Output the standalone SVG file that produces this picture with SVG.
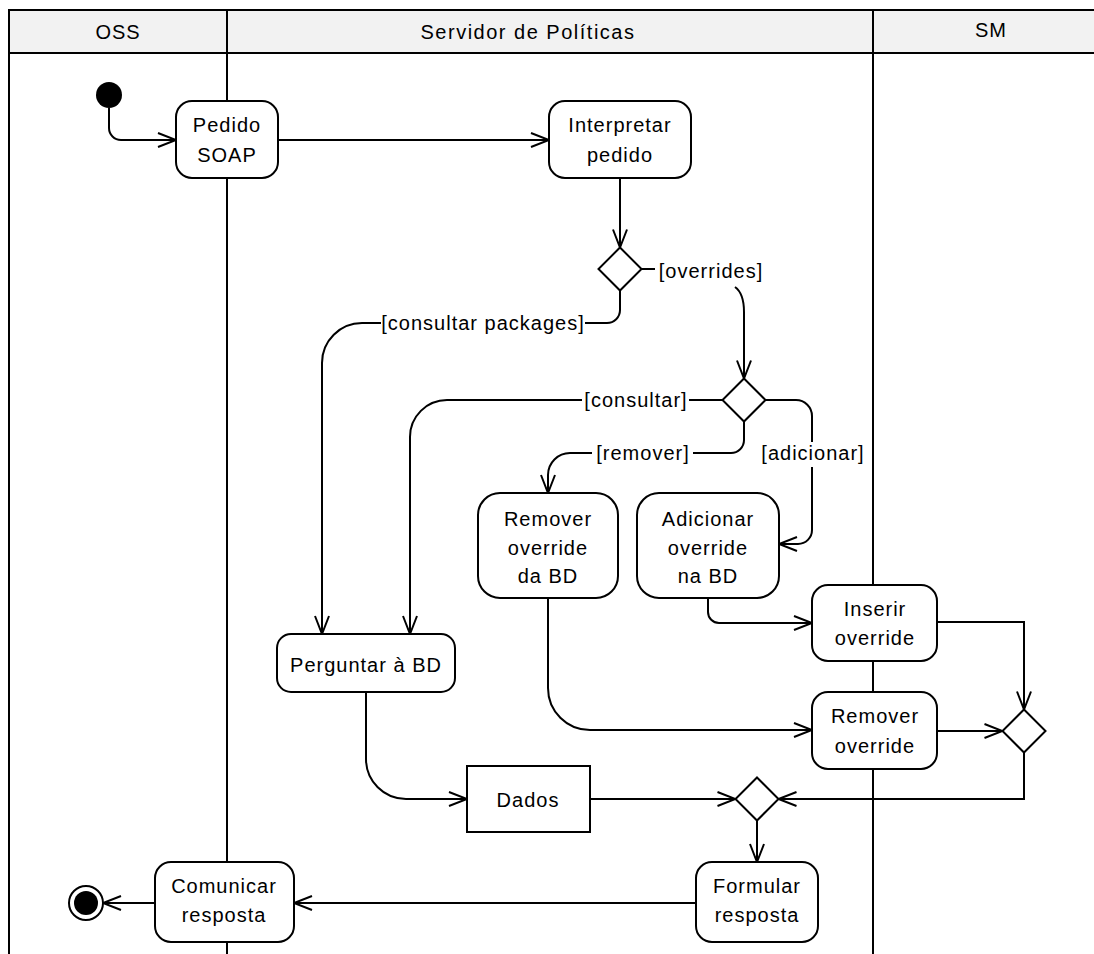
<svg xmlns="http://www.w3.org/2000/svg" width="1094" height="954" viewBox="0 0 1094 954">
  <style>
    .lane { fill: none; stroke: #000; stroke-width: 2; }
    .hdr { fill: #f2f2f2; stroke: none; }
    .act { fill: #fff; stroke: #000; stroke-width: 2; }
    .dec { fill: #fff; stroke: #000; stroke-width: 2; }
    .edge { fill: none; stroke: #000; stroke-width: 2; }
    text { font-family: "Liberation Sans", Arial, sans-serif; font-size: 20px; fill: #000; letter-spacing: 1px; }
    .c { text-anchor: middle; }
    .wide { letter-spacing: 1.5px; }
  </style>
  <defs>
    <marker id="arrow" viewBox="-20 -10 22 20" refX="0" refY="0" markerWidth="22" markerHeight="20" markerUnits="userSpaceOnUse" orient="auto">
      <path d="M-18,-7 L0,0 L-18,7" fill="none" stroke="#000" stroke-width="2"/>
    </marker>
  </defs>
  <rect width="1094" height="954" fill="#fff"/>

  <!-- swimlanes -->
  <g id="lanes">
    <rect class="hdr" x="9" y="10" width="1085" height="43"/>
    <path class="lane" d="M1094,10 H9 V954 M9,53 H1094 M227,10 V954 M873,10 V954"/>
    <text class="c" x="118" y="39">OSS</text>
    <text class="c wide" x="528" y="39">Servidor de Políticas</text>
    <text class="c" x="991" y="37">SM</text>
  </g>

  <!-- control flow -->
  <g id="connectors">
    <path class="edge" d="M109,108 V128 A12,12 0 0 0 121,140 H176" marker-end="url(#arrow)"/>
    <path class="edge" d="M278,140 H549" marker-end="url(#arrow)"/>
    <path class="edge" d="M620,178 V247.5" marker-end="url(#arrow)"/>
    <!-- [overrides] -->
    <path class="edge" d="M641.5,269 H655"/>
    <path class="edge" d="M735,287 C742,292 744,300 744,312 V378.5" marker-end="url(#arrow)"/>
    <!-- [consultar packages] -->
    <path class="edge" d="M620,290.5 V310 A13,13 0 0 1 607,323 H585"/>
    <path class="edge" d="M381,323 H362 A40,40 0 0 0 322,363 V634" marker-end="url(#arrow)"/>
    <!-- [consultar] -->
    <path class="edge" d="M722.5,400 H689"/>
    <path class="edge" d="M582,400 H447 A37,37 0 0 0 410,437 V634" marker-end="url(#arrow)"/>
    <!-- [remover] -->
    <path class="edge" d="M744,421.5 V440 A13,13 0 0 1 731,453 H693"/>
    <path class="edge" d="M592,453 H570 A22,22 0 0 0 548,475 V493" marker-end="url(#arrow)"/>
    <!-- [adicionar] -->
    <path class="edge" d="M765.5,400 H796 A16,16 0 0 1 812,416 V442"/>
    <path class="edge" d="M812,467 V530 A14,14 0 0 1 798,544 H779" marker-end="url(#arrow)"/>
    <!-- towards SM -->
    <path class="edge" d="M708,598 V612 A11,11 0 0 0 719,623 H812" marker-end="url(#arrow)"/>
    <path class="edge" d="M548,598 V688 A42,42 0 0 0 590,730 H812" marker-end="url(#arrow)"/>
    <path class="edge" d="M937,622 H1024 V709.5" marker-end="url(#arrow)"/>
    <path class="edge" d="M937,731 H1002.5" marker-end="url(#arrow)"/>
    <path class="edge" d="M1024,752.5 V799 H778.5" marker-end="url(#arrow)"/>
    <!-- data and reply -->
    <path class="edge" d="M366,692 V759 A40,40 0 0 0 406,799 H467" marker-end="url(#arrow)"/>
    <path class="edge" d="M590,799 H735.5" marker-end="url(#arrow)"/>
    <path class="edge" d="M757,820.5 V862" marker-end="url(#arrow)"/>
    <path class="edge" d="M696,903 H294" marker-end="url(#arrow)"/>
    <path class="edge" d="M155,903 H103" marker-end="url(#arrow)"/>
  </g>

  <!-- guard labels -->
  <g id="guards">
    <text class="c" x="711" y="278">[overrides]</text>
    <text class="c" x="483" y="330">[consultar packages]</text>
    <text class="c" x="636" y="407">[consultar]</text>
    <text class="c" x="643" y="460">[remover]</text>
    <text class="c" x="813" y="460">[adicionar]</text>
  </g>

  <g id="start"><circle cx="109" cy="95" r="13" fill="#000"/></g>

  <g id="pedido-soap">
    <rect class="act" x="176" y="101" width="102" height="77" rx="16"/>
    <text class="c" x="227" y="132">Pedido</text>
    <text class="c" x="227" y="162">SOAP</text>
  </g>

  <g id="interpretar-pedido">
    <rect class="act" x="549" y="101" width="142" height="77" rx="16"/>
    <text class="c" x="620" y="132">Interpretar</text>
    <text class="c" x="620" y="162">pedido</text>
  </g>

  <g id="decisao-tipo"><path class="dec" d="M620,247.5 L641.5,269 L620,290.5 L598.5,269 Z"/></g>
  <g id="decisao-override"><path class="dec" d="M744,378.5 L765.5,400 L744,421.5 L722.5,400 Z"/></g>

  <g id="remover-override-bd">
    <rect class="act" x="478" y="493" width="140" height="105" rx="22"/>
    <text class="c" x="548" y="526">Remover</text>
    <text class="c" x="548" y="555">override</text>
    <text class="c" x="548" y="583">da BD</text>
  </g>

  <g id="adicionar-override-bd">
    <rect class="act" x="637" y="493" width="142" height="105" rx="22"/>
    <text class="c" x="708" y="526">Adicionar</text>
    <text class="c" x="708" y="555">override</text>
    <text class="c" x="708" y="583">na BD</text>
  </g>

  <g id="inserir-override">
    <rect class="act" x="812" y="585" width="125" height="76" rx="16"/>
    <text class="c" x="875" y="616">Inserir</text>
    <text class="c" x="875" y="645">override</text>
  </g>

  <g id="remover-override">
    <rect class="act" x="812" y="692" width="125" height="77" rx="16"/>
    <text class="c" x="875" y="723">Remover</text>
    <text class="c" x="875" y="753">override</text>
  </g>

  <g id="juncao-sm"><path class="dec" d="M1024,709.5 L1045.5,731 L1024,752.5 L1002.5,731 Z"/></g>

  <g id="perguntar-bd">
    <rect class="act" x="277" y="634" width="178" height="58" rx="14"/>
    <text class="c" x="366" y="672">Perguntar à BD</text>
  </g>

  <g id="dados">
    <rect class="act" x="467" y="766" width="123" height="66"/>
    <text class="c" x="528" y="807">Dados</text>
  </g>

  <g id="juncao-resposta"><path class="dec" d="M757,777.5 L778.5,799 L757,820.5 L735.5,799 Z"/></g>

  <g id="formular-resposta">
    <rect class="act" x="696" y="862" width="122" height="80" rx="16"/>
    <text class="c" x="757" y="893">Formular</text>
    <text class="c" x="757" y="922">resposta</text>
  </g>

  <g id="comunicar-resposta">
    <rect class="act" x="155" y="862" width="139" height="80" rx="16"/>
    <text class="c" x="224" y="893">Comunicar</text>
    <text class="c" x="224" y="922">resposta</text>
  </g>

  <g id="fim">
    <circle cx="86" cy="903" r="17" fill="#fff" stroke="#000" stroke-width="2"/>
    <circle cx="86" cy="903" r="12" fill="#000"/>
  </g>
</svg>
